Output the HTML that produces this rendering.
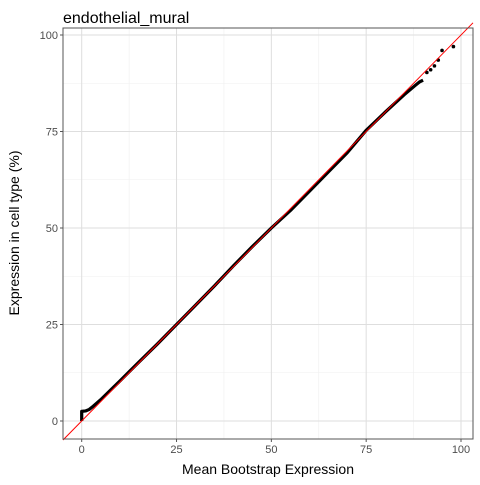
<!DOCTYPE html>
<html><head><meta charset="utf-8"><style>
body{margin:0;background:#fff;font-family:"Liberation Sans",sans-serif}
</style></head><body>
<svg id="chart" width="480" height="480" xmlns="http://www.w3.org/2000/svg" font-family="Liberation Sans, sans-serif">
<text x="63" y="23" font-size="16" fill="#000">endothelial_mural</text>
<g id="grid"></g>
<g id="marks"></g>
<rect x="63" y="28" width="410" height="411" fill="none" stroke="#555" stroke-width="1"/>
<g id="axes"></g>
<text x="268" y="474" font-size="14" text-anchor="middle">Mean Bootstrap Expression</text>
<text transform="translate(19,233) rotate(-90)" font-size="14" text-anchor="middle">Expression in cell type (%)</text>
</svg>
<script>
const xTicks=[0,25,50,75,100];
const yTicks=[0,25,50,75,100];
const xs=[0,0,0,0,1,2,3,5,10,15,20,25,30,35,40,45,50,55,60,65,70,75,80,85,88,89,90,91,92,93,94,95,98];
const ys=[0,1,2,2.5,2.6,3,3.8,5.5,10.3,15.2,20,25,30,35,40.2,45.2,50,54.5,59.5,64.5,69.5,75.3,80,84.5,87,87.8,88.3,90.3,91,92,93.5,96,97];
const L=63,R=473,T=28,B=439;
const X=v=>81.7+v*3.793, Y=v=>421-v*3.86;
const NS="http://www.w3.org/2000/svg";
function mk(tag,attrs,parent){const e=document.createElementNS(NS,tag);for(const k in attrs)e.setAttribute(k,attrs[k]);parent.appendChild(e);return e;}
const grid=document.getElementById('grid'),axes=document.getElementById('axes');
for(let i=0;i<xTicks.length-1;i++){
 const m=(xTicks[i]+xTicks[i+1])/2;
 const g=mk('line',{x1:X(m),x2:X(m),y1:T,y2:B,stroke:'#efefef','stroke-width':0.6},grid);
 
 const m2=(yTicks[i]+yTicks[i+1])/2;
 const h=mk('line',{x1:L,x2:R,y1:Y(m2),y2:Y(m2),stroke:'#efefef','stroke-width':0.6},grid);
 
}
xTicks.forEach(t=>{
 const g=mk('line',{x1:X(t),x2:X(t),y1:T,y2:B,stroke:'#dedede','stroke-width':1},grid);
 
 const tk=mk('line',{x1:X(t),x2:X(t),y1:B,y2:B+3,stroke:'#555'},axes);
 
 const tx=mk('text',{x:X(t),y:B+14,'font-size':11,fill:'#4d4d4d','text-anchor':'middle'},axes);tx.textContent=t;
 
});
yTicks.forEach(t=>{
 const g=mk('line',{x1:L,x2:R,y1:Y(t),y2:Y(t),stroke:'#dedede','stroke-width':1},grid);
 
 const tk=mk('line',{x1:L-3,x2:L,y1:Y(t),y2:Y(t),stroke:'#555'},axes);
 
 const tx=mk('text',{x:L-5,y:Y(t)+4,'font-size':11,fill:'#4d4d4d','text-anchor':'end'},axes);tx.textContent=t;
 
});
const marks=document.getElementById('marks');
let d='';xs.forEach((x,i)=>{if(x<=90)d+=(d?'L':'M')+X(x)+','+Y(ys[i]);});
const p=mk('path',{d:d,fill:'none',stroke:'#000','stroke-width':3.2,'stroke-linejoin':'round'},marks);

xs.forEach((x,i)=>{if(x>90){const c=mk('circle',{cx:X(x),cy:Y(ys[i]),r:1.8,fill:'#000'},marks);
 }});
const x0=(L-81.7)/3.793, x1=(R-81.7)/3.793;
const rl=mk('line',{x1:X(x0),y1:Y(x0),x2:X(x1),y2:Y(x1),stroke:'#ff0000','stroke-width':1},marks);

</script>
</body></html>
